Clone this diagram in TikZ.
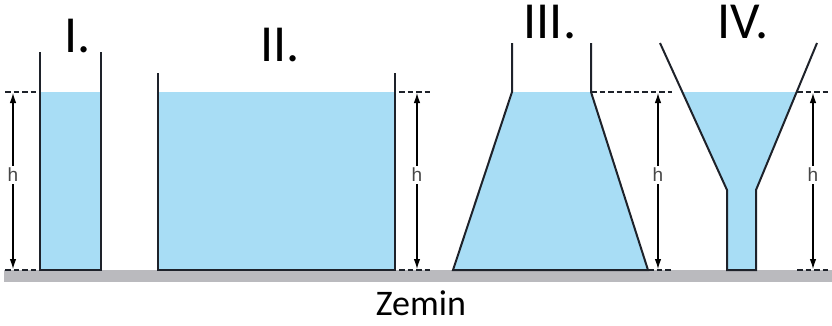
\documentclass[tikz,border=0pt]{standalone}
\usepackage{fontspec}
\setmainfont{Carlito}
\newfontfamily\hfont{Liberation Sans}
\usetikzlibrary{arrows.meta}
\definecolor{water}{RGB}{168,221,245}
\definecolor{ground}{RGB}{186,186,190}
\definecolor{wall}{RGB}{30,34,42}
\definecolor{hgray}{RGB}{70,70,70}
\tikzset{
  wallline/.style={draw=wall,line width=2pt,line join=miter},
  waterfill/.style={fill=water,draw=none},
  dashline/.style={draw=wall,line width=2pt,dash pattern=on 5.5pt off 3pt},
  harrow/.style={draw=black,line width=1.1pt,{Latex[length=10pt,width=6.5pt]}-{Latex[length=10pt,width=6.5pt]}},
  hlabel/.style={fill=white,inner sep=2pt,text=hgray,font=\hfont\fontsize{19}{19}\selectfont},
  roman/.style={font=\fontsize{52}{52}\selectfont,inner sep=0pt,anchor=base,text height=33pt,text depth=0pt},
}
\begin{document}
\begin{tikzpicture}[x=1pt,y=-1pt]
\useasboundingbox (0,0) rectangle (832,325);
% ground
\fill[ground] (4,270) rectangle (832,282);
% container I
\fill[waterfill] (40,92) rectangle (101,270);
\draw[wallline] (40,52) -- (40,270) -- (101,270) -- (101,52);
% container II
\fill[waterfill] (158,92) rectangle (395,270);
\draw[wallline] (158,73) -- (158,270) -- (395,270) -- (395,73);
% container III
\fill[waterfill] (512,92) -- (453,270) -- (648,270) -- (591,92) -- cycle;
\draw[wallline] (512,43) -- (512,92) -- (453,270) -- (648,270) -- (591,92) -- (591,43);
% container IV
\fill[waterfill] (682,92) -- (727,190) -- (727,270) -- (756,270) -- (756,190) -- (797,92) -- cycle;
\draw[wallline] (660,43) -- (727,190) -- (727,270) -- (756,270) -- (756,190) -- (817,43);
% dashed level lines
\draw[dashline] (5,92) -- (40,92);
\draw[dashline] (5,270) -- (40,270);
\draw[dashline] (399,92) -- (430,92);
\draw[dashline] (399,270) -- (430,270);
\draw[dashline] (591,92) -- (672,92);
\draw[dashline] (648,270) -- (672,270);
\draw[dashline] (797,92) -- (828,92);
\draw[dashline] (797,270) -- (828,270);
% height arrows
\coordinate (a1t) at (13,93); \coordinate (a1b) at (13,269);
\coordinate (a2t) at (417,93); \coordinate (a2b) at (417,269);
\coordinate (a3t) at (658,93); \coordinate (a3b) at (658,269);
\coordinate (a4t) at (813,93); \coordinate (a4b) at (813,269);
\draw[harrow] (a1t) -- (a1b);
\draw[harrow] (a2t) -- (a2b);
\draw[harrow] (a3t) -- (a3b);
\draw[harrow] (a4t) -- (a4b);
\node[hlabel] (h1) at (13,175) {h};
\node[hlabel] (h2) at (417,175) {h};
\node[hlabel] (h3) at (658,175) {h};
\node[hlabel] (h4) at (813,175) {h};
% labels
\node[roman] (l1) at (78,52) {I.};
\node[roman] (l2) at (280,61) {II.};
\node[roman] (l3) at (550,38) {III.};
\node[roman] (l4) at (743,38) {IV.};
\node[font=\fontsize{36}{36}\selectfont,inner sep=0pt,anchor=base] (z) at (421,315) {Zemin};
\end{tikzpicture}
\end{document}
